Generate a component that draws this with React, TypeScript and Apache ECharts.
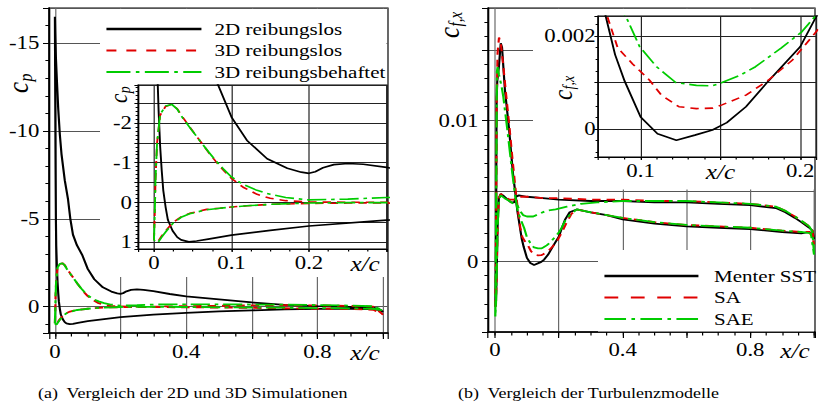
import React, { useEffect, useRef } from "react";
import * as echarts from "echarts";

const SX = 1.2;
const W = 820 / SX;
const H = 402;
const FONT = "Liberation Serif, Times New Roman, serif";

// ---------- (a) pressure coefficient c_p over x/c ----------
const cp2DUpper = [
  [0.0, -16.5], [0.001, -15.6], [0.003, -14.2], [0.006, -12.9], [0.01, -11.3], [0.015, -9.8],
  [0.02, -8.7], [0.03, -7.2], [0.04, -6.1], [0.047, -5.0], [0.055, -4.1], [0.067, -3.5],
  [0.083, -2.95], [0.1, -2.15], [0.12, -1.56], [0.146, -1.1], [0.172, -0.86], [0.19, -0.76],
  [0.2, -0.73], [0.208, -0.77], [0.218, -0.87], [0.232, -0.95], [0.25, -0.98], [0.27, -0.96],
  [0.3, -0.88], [0.35, -0.72], [0.4, -0.58], [0.5, -0.42], [0.6, -0.24], [0.7, -0.1],
  [0.8, -0.03], [0.9, 0.02], [0.97, 0.06], [0.99, 0.15], [1.0, 0.3],
];
const cp2DLower = [
  [1.0, 0.3], [0.99, 0.2], [0.97, 0.14], [0.9, 0.12], [0.8, 0.13], [0.7, 0.16], [0.6, 0.21],
  [0.5, 0.27], [0.4, 0.35], [0.3, 0.45], [0.2, 0.6], [0.15, 0.71], [0.1, 0.83], [0.07, 0.93],
  [0.055, 0.98], [0.045, 1.0], [0.035, 0.95], [0.03, 0.88], [0.024, 0.72], [0.018, 0.45],
  [0.015, 0.12], [0.012, -0.3], [0.01, -0.8], [0.008, -1.4], [0.006, -2.3], [0.004, -3.5],
  [0.003, -5.0], [0.002, -8.0], [0.001, -12.0], [0.0, -16.5],
];
const cp3DInviscidUpper = [
  [0.0, 0.95], [0.001, 0.3], [0.002, -0.6], [0.004, -1.5], [0.008, -2.2], [0.015, -2.42],
  [0.023, -2.47], [0.03, -2.36], [0.037, -2.15], [0.048, -1.85], [0.059, -1.56], [0.07, -1.27],
  [0.081, -1.0], [0.09, -0.8], [0.1, -0.6], [0.115, -0.38], [0.133, -0.2], [0.15, -0.1],
  [0.17, -0.04], [0.2, -0.01], [0.25, 0.0], [0.3, 0.0], [0.4, -0.03], [0.5, -0.05],
  [0.6, -0.07], [0.7, -0.08], [0.8, -0.07], [0.9, -0.04], [0.97, 0.0], [1.0, 0.45],
];
const cp3DInviscidLower = [
  [1.0, 0.45], [0.97, 0.18], [0.9, 0.13], [0.8, 0.11], [0.7, 0.09], [0.6, 0.07], [0.5, 0.05],
  [0.4, 0.04], [0.3, 0.02], [0.25, 0.02], [0.2, 0.03], [0.153, 0.05], [0.12, 0.09], [0.1, 0.12],
  [0.085, 0.15], [0.068, 0.18], [0.046, 0.28], [0.035, 0.37], [0.025, 0.5], [0.015, 0.72],
  [0.01, 0.85], [0.005, 1.0], [0.002, 0.98], [0.0, 0.95],
];
const cp3DViscousUpper = [
  [0.0, 0.95], [0.001, 0.3], [0.002, -0.6], [0.004, -1.5], [0.008, -2.22], [0.015, -2.43],
  [0.023, -2.47], [0.03, -2.35], [0.037, -2.13], [0.048, -1.84], [0.059, -1.56], [0.07, -1.28],
  [0.081, -1.02], [0.09, -0.83], [0.1, -0.64], [0.115, -0.45], [0.133, -0.3], [0.15, -0.2],
  [0.17, -0.12], [0.2, -0.06], [0.25, -0.08], [0.3, -0.12], [0.4, -0.13], [0.5, -0.13],
  [0.6, -0.12], [0.7, -0.11], [0.8, -0.09], [0.9, -0.06], [0.97, -0.02], [1.0, 0.2],
];
const cp3DViscousLower = [
  [1.0, 0.2], [0.97, 0.12], [0.9, 0.1], [0.8, 0.08], [0.7, 0.06], [0.6, 0.05], [0.5, 0.04],
  [0.4, 0.02], [0.3, 0.01], [0.25, 0.01], [0.2, 0.02], [0.153, 0.05], [0.12, 0.09], [0.1, 0.12],
  [0.085, 0.15], [0.068, 0.19], [0.046, 0.29], [0.035, 0.38], [0.025, 0.52], [0.015, 0.75],
  [0.01, 0.88], [0.005, 1.02], [0.002, 0.99], [0.0, 0.95],
];

// ---------- (b) skin friction c_f,x over x/c ----------
const cfSSTUpper = [
  [0.0015, -0.0032], [0.003, 0.0005], [0.005, 0.0115], [0.007, 0.0128], [0.012, 0.0138],
  [0.018, 0.0155], [0.022, 0.0152], [0.031, 0.0122], [0.044, 0.0094], [0.056, 0.0063],
  [0.064, 0.0048], [0.07, 0.0036], [0.0783, 0.0024], [0.084, 0.0016], [0.09, 0.00103],
  [0.1, 0.00026], [0.1106, -0.0001], [0.1224, -0.00024], [0.134, -0.00013], [0.145, -0.00002],
  [0.154, 0.00014], [0.166, 0.00048], [0.18, 0.00103], [0.2, 0.00177], [0.209, 0.00235],
  [0.22, 0.003], [0.234, 0.0035], [0.256, 0.0037], [0.3, 0.0035], [0.35, 0.0033], [0.4, 0.003],
  [0.5, 0.0027], [0.6, 0.0025], [0.7, 0.0024], [0.8, 0.0023], [0.9, 0.0021], [0.96, 0.002],
  [0.985, 0.0021], [0.995, 0.0019], [1.0, 0.0016],
];
const cfSSTLower = [
  [1.0, 0.0016], [0.995, 0.0022], [0.985, 0.0024], [0.96, 0.0028], [0.94, 0.0031], [0.91, 0.0035],
  [0.88, 0.0038], [0.8, 0.004], [0.7, 0.0041], [0.6, 0.0042], [0.5, 0.0042], [0.4, 0.0043],
  [0.3, 0.0043], [0.2, 0.0044], [0.15, 0.0045], [0.1, 0.0046], [0.075, 0.0047], [0.066, 0.0046],
  [0.06, 0.0042], [0.05, 0.0042], [0.04, 0.0044], [0.03, 0.0046], [0.018, 0.0048], [0.012, 0.0045],
  [0.008, 0.0025], [0.005, -0.001], [0.003, -0.0028], [0.0015, -0.0032],
];
const cfSAUpper = [
  [0.0015, -0.0032], [0.003, 0.0005], [0.005, 0.011], [0.008, 0.0148], [0.0125, 0.0159],
  [0.018, 0.0155], [0.025, 0.0141], [0.035, 0.0118], [0.045, 0.0096], [0.055, 0.0072],
  [0.065, 0.005], [0.072, 0.0036], [0.0795, 0.00238], [0.0857, 0.00174], [0.095, 0.0014],
  [0.1056, 0.00105], [0.113, 0.00073], [0.124, 0.00048], [0.135, 0.00044], [0.145, 0.00045],
  [0.151, 0.00052], [0.166, 0.00073], [0.18, 0.00105], [0.195, 0.00148], [0.21, 0.00209],
  [0.225, 0.0028], [0.24, 0.0034], [0.256, 0.0037], [0.3, 0.0035], [0.35, 0.0033], [0.4, 0.0031],
  [0.5, 0.0028], [0.6, 0.0026], [0.7, 0.0025], [0.8, 0.0024], [0.9, 0.0022], [0.96, 0.0021],
  [0.985, 0.0021], [0.995, 0.0017], [1.0, 0.0012],
];
const cfSALower = [
  [1.0, 0.0012], [0.995, 0.0022], [0.985, 0.0025], [0.96, 0.0029], [0.94, 0.0032], [0.91, 0.0036],
  [0.88, 0.0039], [0.8, 0.0041], [0.7, 0.0042], [0.6, 0.0043], [0.5, 0.0043], [0.4, 0.0044],
  [0.3, 0.0044], [0.2, 0.0045], [0.15, 0.0045], [0.1, 0.0046], [0.075, 0.0046], [0.06, 0.0044],
  [0.045, 0.0044], [0.03, 0.0046], [0.018, 0.0048], [0.012, 0.0045], [0.008, 0.0025],
  [0.005, -0.001], [0.003, -0.0028], [0.0015, -0.0032],
];
const cfSAEUpper = [
  [0.001, -0.0039], [0.002, -0.002], [0.004, 0.006], [0.006, 0.0135], [0.008, 0.0138],
  [0.012, 0.0133], [0.02, 0.0125], [0.026, 0.0117], [0.04, 0.0091], [0.053, 0.0065],
  [0.063, 0.0047], [0.072, 0.0035], [0.082, 0.0029], [0.0913, 0.00238], [0.0994, 0.00177],
  [0.11, 0.00134], [0.122, 0.001], [0.135, 0.00094], [0.145, 0.00093], [0.151, 0.001],
  [0.162, 0.00115], [0.172, 0.00134], [0.188, 0.00174], [0.201, 0.00209], [0.209, 0.00241],
  [0.22, 0.0029], [0.234, 0.0033], [0.256, 0.0037], [0.3, 0.0035], [0.35, 0.0033], [0.4, 0.0031],
  [0.5, 0.0028], [0.6, 0.0026], [0.7, 0.0025], [0.8, 0.0024], [0.9, 0.0022], [0.96, 0.0021],
  [0.99, 0.002], [1.0, 0.0005],
];
const cfSAELower = [
  [1.0, 0.0005], [0.995, 0.0021], [0.985, 0.0025], [0.96, 0.0029], [0.94, 0.0032], [0.91, 0.0036],
  [0.88, 0.0039], [0.8, 0.0041], [0.7, 0.0042], [0.6, 0.0043], [0.5, 0.0043], [0.4, 0.0043],
  [0.32, 0.0042], [0.27, 0.0041], [0.225, 0.0039], [0.19, 0.0037], [0.16, 0.0036], [0.14, 0.0034],
  [0.12, 0.0032], [0.1, 0.0032], [0.088, 0.0033], [0.078, 0.0036], [0.07, 0.004], [0.058, 0.0041],
  [0.045, 0.0043], [0.03, 0.0045], [0.018, 0.0047], [0.012, 0.0044], [0.008, 0.0025],
  [0.005, -0.001], [0.003, -0.003], [0.001, -0.0039],
];

const leftNames = ["2D reibungslos", "3D reibungslos", "3D reibungsbehaftet"];
const rightNames = ["Menter SST", "SA", "SAE"];
const captionA = "(a)  Vergleich der 2D und 3D Simulationen";
const captionB = "(b)  Vergleich der Turbulenzmodelle";

const cpMainXLabels = [0, 0.4, 0.8];
const cpMainYLabels = [-15, -10, -5, 0];
const cpInsetXLabels = [0, 0.1, 0.2];
const cpInsetYLabels = [-2, -1, 0, 1];
const cfMainXLabels = [0, 0.4, 0.8];
const cfMainYLabels = [0, 0.01];
const cfInsetXLabels = [0.1, 0.2];
const cfInsetYLabels = [0, 0.002];

const RED = "#e00000";
const GREEN = "#00cc00";
const STYLES = [
  { color: "#000000", type: "solid" as any },
  { color: RED, type: [7, 5] as any },
  { color: GREEN, type: [16, 4, 3, 4] as any },
];

const pick = (list: number[]) => (v: number) => {
  const m = list.find((l) => Math.abs(l - v) < 1e-9);
  return m === undefined ? "" : String(m);
};
const steps = (min: number, max: number, step: number) => {
  const out: number[] = [];
  for (let k = Math.ceil(min / step - 1e-9); k * step <= max + 1e-12; k++) out.push(+(k * step).toFixed(8));
  return out;
};

const baseLabel = { fontFamily: FONT, fontSize: 19, color: "#000" };
const italicName = { fontFamily: FONT, fontStyle: "italic", fontSize: 21, color: "#000", align: "right", verticalAlign: "top" };

function mainAxis(o: any) {
  return {
    type: "value",
    gridIndex: o.grid,
    position: o.position,
    min: o.min,
    max: o.max,
    inverse: !!o.inverse,
    splitNumber: o.split,
    z: o.z,
    axisLine: { show: true, onZero: false, lineStyle: { color: "#000", width: o.lineWidth ?? 1.5 } },
    axisTick: { show: true, inside: false, length: o.tickLen ?? 6, lineStyle: { color: "#000", width: 1 } },
    axisLabel: { ...baseLabel, margin: o.margin, formatter: o.formatter, rich: o.rich },
    splitLine: { show: true, lineStyle: { color: o.splitColor, width: 1 } },
    name: o.name,
    nameLocation: "end",
    nameGap: o.nameGap,
    nameTextStyle: o.nameTextStyle,
  };
}
function minorAxis(o: any) {
  return {
    type: "value",
    gridIndex: o.grid,
    position: o.position,
    min: o.min,
    max: o.max,
    inverse: !!o.inverse,
    z: o.z,
    axisLine: { show: false, onZero: false },
    axisLabel: { show: false },
    splitLine: { show: false },
    axisTick: { show: true, inside: false, length: o.len, customValues: steps(o.min, o.max, o.step), lineStyle: { color: "#000", width: 1 } },
  };
}

const R = {
  cpX: [-0.018, 1.015], cpY: [-17, 1.5],
  cpIX: [-0.0206, 0.3006], cpIY: [-2.96, 1.18],
  cfX: [-0.022, 1.003], cfY: [-0.005, 0.018],
  cfIX: [0.0733, 0.2099], cfIY: [-0.0006, 0.00243],
};

const xAxes = [
  mainAxis({ grid: 0, position: "bottom", min: R.cpX[0], max: R.cpX[1], split: 5, z: 0, margin: 9,
    formatter: pick(cpMainXLabels), splitColor: "#6a6a6a", name: "x/c", nameGap: -7,
    nameTextStyle: { ...italicName, padding: [9, 0, 0, 0] } }),
  minorAxis({ grid: 0, position: "bottom", min: R.cpX[0], max: R.cpX[1], z: 0, len: 3.5, step: 0.05 }),
  mainAxis({ grid: 1, position: "bottom", min: R.cpIX[0], max: R.cpIX[1], split: 3, z: 3, margin: 4, lineWidth: 1,
    tickLen: 3, formatter: pick(cpInsetXLabels), splitColor: "#222", name: "x/c", nameGap: -6,
    nameTextStyle: { ...italicName, padding: [4, 0, 0, 0] } }),
  minorAxis({ grid: 1, position: "bottom", min: R.cpIX[0], max: R.cpIX[1], z: 3, len: 2.5, step: 0.025 }),
  mainAxis({ grid: 2, position: "bottom", min: R.cfX[0], max: R.cfX[1], split: 5, z: 0, margin: 8,
    formatter: pick(cfMainXLabels), splitColor: "#6a6a6a", name: "x/c", nameGap: -4.5,
    nameTextStyle: { ...italicName, padding: [8, 0, 0, 0] } }),
  minorAxis({ grid: 2, position: "bottom", min: R.cfX[0], max: R.cfX[1], z: 0, len: 3.5, step: 0.05 }),
  mainAxis({ grid: 3, position: "bottom", min: R.cfIX[0], max: R.cfIX[1], split: 3, z: 3, margin: 4, lineWidth: 1,
    tickLen: 3, splitColor: "#222",
    formatter: (v: number) => (Math.abs(v - 0.15) < 1e-9 ? "{i|x/c}" : pick(cfInsetXLabels)(v)),
    rich: { i: { fontFamily: FONT, fontStyle: "italic", fontSize: 21, color: "#000" } } }),
  minorAxis({ grid: 3, position: "bottom", min: R.cfIX[0], max: R.cfIX[1], z: 3, len: 2.5, step: 0.01 }),
];

const yAxes = [
  mainAxis({ grid: 0, position: "left", min: R.cpY[0], max: R.cpY[1], inverse: true, split: 4, z: 0, margin: 8,
    tickLen: 5, formatter: pick(cpMainYLabels), splitColor: "#555" }),
  minorAxis({ grid: 0, position: "left", min: R.cpY[0], max: R.cpY[1], inverse: true, z: 0, len: 3, step: 1 }),
  mainAxis({ grid: 1, position: "left", min: R.cpIY[0], max: R.cpIY[1], inverse: true, split: 8, z: 3, margin: 5,
    lineWidth: 1, tickLen: 3, formatter: pick(cpInsetYLabels), splitColor: "#222" }),
  minorAxis({ grid: 1, position: "left", min: R.cpIY[0], max: R.cpIY[1], inverse: true, z: 3, len: 2, step: 0.1 }),
  mainAxis({ grid: 2, position: "left", min: R.cfY[0], max: R.cfY[1], split: 5, z: 0, margin: 8,
    tickLen: 5, formatter: pick(cfMainYLabels), splitColor: "#555" }),
  minorAxis({ grid: 2, position: "left", min: R.cfY[0], max: R.cfY[1], z: 0, len: 3, step: 0.001 }),
  mainAxis({ grid: 3, position: "left", min: R.cfIY[0], max: R.cfIY[1], split: 3, z: 3, margin: 2,
    lineWidth: 1, tickLen: 3, formatter: pick(cfInsetYLabels), splitColor: "#222" }),
  minorAxis({ grid: 3, position: "left", min: R.cfIY[0], max: R.cfIY[1], z: 3, len: 2, step: 0.00025 }),
];

const grids = [
  { left: 49 / SX, top: 8, width: 339 / SX, height: 325, show: true, borderColor: "#000", borderWidth: 1, backgroundColor: "transparent", z: 0 },
  { left: 138 / SX, top: 85, width: 249 / SX, height: 164, show: true, borderColor: "#000", borderWidth: 1, backgroundColor: "#fff", z: 3 },
  { left: 488 / SX, top: 8, width: 327 / SX, height: 324, show: true, borderColor: "#000", borderWidth: 1, backgroundColor: "transparent", z: 0 },
  { left: 598 / SX, top: 16, width: 220 / SX, height: 141, show: true, borderColor: "#000", borderWidth: 1, backgroundColor: "#fff", z: 3 },
];

const cpData = [
  [...cp2DUpper, ...cp2DLower],
  [...cp3DInviscidUpper, ...cp3DInviscidLower],
  [...cp3DViscousUpper, ...cp3DViscousLower],
];
const cfData = [
  [...cfSSTUpper, ...cfSSTLower],
  [...cfSAUpper, ...cfSALower],
  [...cfSAEUpper, ...cfSAELower],
];

function makeSeries(names: string[], sets: number[][][], axisIdx: number, z: number, width: number) {
  return sets.map((data, i) => ({
    type: "line",
    name: names[i],
    data,
    xAxisIndex: axisIdx,
    yAxisIndex: axisIdx,
    symbol: "none",
    showSymbol: false,
    silent: true,
    clip: true,
    z,
    lineStyle: { color: STYLES[i].color, width, type: STYLES[i].type },
    itemStyle: { color: STYLES[i].color },
  }));
}

function axisTitle(xReal: number, yBottom: number, main: string, sub: string, mainSize: number, subSize: number, subShift: number) {
  const txt = (text: string, size: number, x: number, y: number) => ({
    type: "text",
    x,
    y,
    z: 6,
    style: {
      text,
      font: `italic ${size}px ${FONT}`,
      fill: "#000",
      textAlign: "left",
      textVerticalAlign: "middle",
      align: "left",
      verticalAlign: "middle",
    },
  });
  return {
    type: "group",
    x: xReal / SX,
    y: yBottom,
    rotation: Math.PI / 2,
    z: 6,
    children: [txt(main, mainSize, 0, 0), txt(sub, subSize, mainSize * 0.46, subShift)],
  };
}

const legendText = { fontFamily: FONT, fontSize: 17.5, color: "#000", lineHeight: 20 };
const hiddenSymbol = { color: "transparent", borderColor: "transparent", borderWidth: 0, opacity: 0 };

const option: any = {
  animation: false,
  backgroundColor: "#fff",
  grid: grids,
  xAxis: xAxes,
  yAxis: yAxes,
  legend: [
    {
      data: [
        { name: leftNames[0], lineStyle: { width: 2.4 } },
        { name: leftNames[1], lineStyle: { type: [8.3, 8.3], width: 2.2 } },
        { name: leftNames[2], lineStyle: { type: [20, 4.5, 3, 4.5], width: 2.2 } },
      ],
      orient: "vertical",
      left: 105 / SX,
      top: 19,
      padding: 0,
      itemWidth: 95 / SX,
      itemHeight: 14,
      itemGap: 1.5,
      selectedMode: false,
      itemStyle: hiddenSymbol,
      textStyle: { ...legendText, padding: [0, 0, 0, 6] },
      z: 6,
    },
    {
      data: [
        { name: rightNames[0], lineStyle: { width: 2.4 } },
        { name: rightNames[1], lineStyle: { type: [11.5, 10.5], width: 2.2 } },
        { name: rightNames[2], lineStyle: { type: [18, 4.5, 3, 4.5], width: 2.2 } },
      ],
      orient: "vertical",
      left: 603 / SX,
      top: 266,
      padding: 0,
      itemWidth: 94 / SX,
      itemHeight: 14,
      itemGap: 1.5,
      selectedMode: false,
      itemStyle: hiddenSymbol,
      textStyle: { ...legendText, padding: [0, 0, 0, 8] },
      z: 6,
    },
  ],
  graphic: [
    { type: "rect", z: 1, silent: true, shape: { x: 100 / SX, y: 9, width: (386.5 - 100) / SX, height: 268 }, style: { fill: "#fff" } },
    { type: "rect", z: 1, silent: true, shape: { x: 533 / SX, y: 9, width: (814 - 533) / SX, height: 180.5 }, style: { fill: "#fff" } },
    { type: "rect", z: 1, silent: true, shape: { x: 598 / SX, y: 250, width: (814 - 598) / SX, height: 81.5 }, style: { fill: "#fff" } },
    axisTitle(18, 93, "c", "p", 25, 16, 6),
    axisTitle(118, 103, "c", "p", 21, 14, 5),
    axisTitle(449, 38, "c", "f,x", 25, 15, 6),
    axisTitle(562, 100, "c", "f,x", 23, 14, 5),
    {
      type: "text", x: 38 / SX, y: 393, z: 6,
      style: { text: captionA, font: `15px ${FONT}`, fill: "#000", textAlign: "left", textVerticalAlign: "middle", align: "left", verticalAlign: "middle" },
    },
    {
      type: "text", x: 458 / SX, y: 393, z: 6,
      style: { text: captionB, font: `15px ${FONT}`, fill: "#000", textAlign: "left", textVerticalAlign: "middle", align: "left", verticalAlign: "middle" },
    },
  ],
  series: [
    ...makeSeries(leftNames, cpData, 0, 2, 1.8),
    ...makeSeries(leftNames, cpData, 2, 5, 1.6),
    ...makeSeries(rightNames, cfData, 4, 2, 1.8),
    ...makeSeries(rightNames, cfData, 6, 5, 1.6),
  ],
};

export default function App() {
  const ref = useRef<HTMLDivElement>(null);
  useEffect(() => {
    if (!ref.current) return;
    const chart = echarts.init(ref.current, null, { renderer: "svg" });
    chart.setOption(option);
    return () => chart.dispose();
  }, []);
  return (
    <div
      style={{
        position: "fixed",
        left: 0,
        top: 0,
        width: W,
        height: H,
        transform: `scaleX(${SX})`,
        transformOrigin: "0 0",
        background: "#fff",
      }}
    >
      <div ref={ref} style={{ width: W, height: H }} />
    </div>
  );
}
